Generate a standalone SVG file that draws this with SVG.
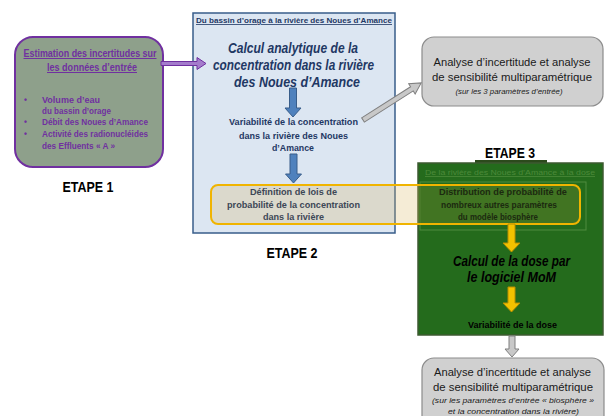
<svg xmlns="http://www.w3.org/2000/svg" width="605" height="416" viewBox="0 0 605 416">
<defs>
<style>
text{font-family:"Liberation Sans",Arial,sans-serif;text-anchor:middle}
.s{text-anchor:start}
.b{font-weight:bold}
.pur{fill:#7030a0;font-weight:bold}
.navy{fill:#1f3864}
.big{font-size:14px;font-weight:bold;font-style:italic}
.etape{font-size:14px;font-weight:bold;fill:#000}
.grey{font-size:11px;fill:#1a1a1a}
.it{font-size:8px;font-style:italic;fill:#1a1a1a}
.blueArr{fill:#4f81bd;stroke:#385d8a;stroke-width:1}
.yelArr{fill:#f2c200;stroke:#b88e00;stroke-width:1}
.greyArr{fill:#c8c8c8;stroke:#7f7f7f;stroke-width:1}
</style>
<clipPath id="ovClip"><rect x="211" y="185" width="369" height="39" rx="7"/></clipPath>
</defs>
<rect width="605" height="416" fill="#ffffff"/>

<g id="box-etape1">
<rect x="15" y="37" width="148" height="130" rx="18" fill="#8ea08b" stroke="#7030a0" stroke-width="2"/>
<text class="pur" x="90" y="57" font-size="10" text-decoration="underline" textLength="133" lengthAdjust="spacingAndGlyphs">Estimation des incertitudes sur</text>
<text class="pur" x="92" y="71" font-size="10" text-decoration="underline" textLength="90" lengthAdjust="spacingAndGlyphs">les données d’entrée</text>
<text class="pur s" x="24" y="103" font-size="8.5">•</text>
<text class="pur s" x="42" y="103" font-size="9" textLength="58" lengthAdjust="spacingAndGlyphs">Volume d’eau</text>
<text class="pur s" x="42" y="114" font-size="9" textLength="69" lengthAdjust="spacingAndGlyphs">du bassin d’orage</text>
<text class="pur s" x="24" y="125" font-size="8.5">•</text>
<text class="pur s" x="42" y="125" font-size="9" textLength="106" lengthAdjust="spacingAndGlyphs">Débit des Noues d’Amance</text>
<text class="pur s" x="24" y="137" font-size="8.5">•</text>
<text class="pur s" x="42" y="137" font-size="9" textLength="106" lengthAdjust="spacingAndGlyphs">Activité des radionucléides</text>
<text class="pur s" x="42" y="149" font-size="9" textLength="73" lengthAdjust="spacingAndGlyphs">des Effluents « A »</text>
<text class="etape" x="88" y="192" textLength="51" lengthAdjust="spacingAndGlyphs">ETAPE 1</text>
</g>

<g id="box-etape2">
<rect x="193" y="13" width="202" height="220" fill="#dce6f2" stroke="#385d8a" stroke-width="1.5"/>
<text class="navy b" x="294" y="23" font-size="8" text-decoration="underline" textLength="196" lengthAdjust="spacingAndGlyphs">Du bassin d’orage à la rivière des Noues d’Amance</text>
<text class="navy big" x="293" y="53" textLength="130" lengthAdjust="spacingAndGlyphs">Calcul analytique de la</text>
<text class="navy big" x="293.5" y="70" textLength="161" lengthAdjust="spacingAndGlyphs">concentration dans la rivière</text>
<text class="navy big" x="297" y="87" textLength="126" lengthAdjust="spacingAndGlyphs">des Noues d’Amance</text>
<text class="navy b" x="293.5" y="125" font-size="9.2" textLength="129" lengthAdjust="spacingAndGlyphs">Variabilité de la concentration</text>
<text class="navy b" x="293.5" y="139" font-size="9.2" textLength="109" lengthAdjust="spacingAndGlyphs">dans la rivière des Noues</text>
<text class="navy b" x="293" y="151" font-size="9.2" textLength="42" lengthAdjust="spacingAndGlyphs">d’Amance</text>
<text class="etape" x="292" y="258" textLength="51" lengthAdjust="spacingAndGlyphs">ETAPE 2</text>
</g>

<g id="box-etape3">
<rect x="475" y="160" width="72" height="4" fill="#2c4a1c"/>
<rect x="418" y="163" width="185" height="172" fill="#246b1c" stroke="#3d5a30" stroke-width="1.5"/>
<text x="510" y="175" font-size="8" fill="#4c8a3a" text-decoration="underline" textLength="170" lengthAdjust="spacingAndGlyphs">De la rivière des Noues d’Amance à la dose</text>
<rect x="420" y="182" width="166" height="48" fill="none" stroke="#4f8c3e" stroke-width="1"/>
<text class="etape" x="510" y="158" textLength="50" lengthAdjust="spacingAndGlyphs">ETAPE 3</text>
</g>

<g id="overlay-distribution">
<g clip-path="url(#ovClip)">
<rect x="211" y="185" width="369" height="39" fill="#d8b55f" fill-opacity="0.26"/>
<rect x="419" y="185" width="161" height="39" fill="#2f6a18" fill-opacity="0.5"/>
</g>
<rect x="211" y="185" width="369" height="39" rx="7" fill="none" stroke="#f0b400" stroke-width="2"/>
<text class="b" x="293.5" y="194.5" font-size="9.2" fill="#3d4756" textLength="87" lengthAdjust="spacingAndGlyphs">Définition de lois de</text>
<text class="b" x="293.5" y="207.5" font-size="9.2" fill="#3d4756" textLength="133" lengthAdjust="spacingAndGlyphs">probabilité de la concentration</text>
<text class="b" x="293.5" y="219.5" font-size="9.2" fill="#3d4756" textLength="61" lengthAdjust="spacingAndGlyphs">dans la rivière</text>
<text class="b" x="503" y="194.5" font-size="9.2" fill="#1c2a10" textLength="128" lengthAdjust="spacingAndGlyphs">Distribution de probabilité de</text>
<text class="b" x="499" y="207.5" font-size="9.2" fill="#1c2a10" textLength="116" lengthAdjust="spacingAndGlyphs">nombreux autres paramètres</text>
<text class="b" x="498" y="219.5" font-size="9.2" fill="#1c2a10" textLength="80" lengthAdjust="spacingAndGlyphs">du modèle biosphère</text>
</g>

<g id="calcul-dose">
<text class="big" x="511.5" y="266" fill="#000" textLength="117" lengthAdjust="spacingAndGlyphs">Calcul de la dose par</text>
<text class="big" x="511.5" y="282" fill="#000" textLength="89" lengthAdjust="spacingAndGlyphs">le logiciel MoM</text>
</g>
<g id="variabilite-dose">
<text class="b" x="512.5" y="328" font-size="9" fill="#000" textLength="89" lengthAdjust="spacingAndGlyphs">Variabilité de la dose</text>
</g>

<g id="analyse-1">
<rect x="422" y="37" width="181" height="69" rx="12" fill="#d0d0d0" stroke="#8c8c8c" stroke-width="1.2"/>
<text class="grey" x="512" y="66" textLength="157" lengthAdjust="spacingAndGlyphs">Analyse d’incertitude et analyse</text>
<text class="grey" x="512" y="81" textLength="160" lengthAdjust="spacingAndGlyphs">de sensibilité multiparamétrique</text>
<text class="it" x="509" y="94" textLength="107" lengthAdjust="spacingAndGlyphs">(sur les 3 paramètres d’entrée)</text>
</g>

<g id="analyse-2">
<rect x="422" y="358" width="182" height="70" rx="12" fill="#d0d0d0" stroke="#8c8c8c" stroke-width="1.2"/>
<text class="grey" x="512.5" y="376" textLength="157" lengthAdjust="spacingAndGlyphs">Analyse d’incertitude et analyse</text>
<text class="grey" x="513" y="391" textLength="160" lengthAdjust="spacingAndGlyphs">de sensibilité multiparamétrique</text>
<text class="it" x="513" y="403" textLength="162" lengthAdjust="spacingAndGlyphs">(sur les paramètres d’entrée « biosphère »</text>
<text class="it" x="513.5" y="414" textLength="131" lengthAdjust="spacingAndGlyphs">et la concentration dans la rivière)</text>
</g>

<g id="connectors">
<polygon points="161,61.5 197,61.5 197,57.5 206,63.5 197,69.5 197,65.5 161,65.5" fill="#a47ccc" stroke="#7030a0" stroke-width="1"/>
<polygon class="blueArr" points="289.5,88 296.5,88 296.5,108 301,108 293,117 285,108 289.5,108"/>
<polygon class="blueArr" points="290,154 297,154 297,174 301.5,174 293.5,183 285.5,174 290,174"/>
<polygon class="yelArr" points="508,224 515,224 515,243 520,243 511.5,252 503,243 508,243"/>
<polygon class="yelArr" points="508,287 515,287 515,303 520,303 511.5,312 503,303 508,303"/>
<polygon class="greyArr" points="509,336 515,336 515,349 519,349 512,357 505,349 509,349"/>
<g transform="translate(363,120) rotate(-32.5)">
<polygon class="greyArr" points="0,-2.5 58,-2.5 58,-6 69,0 58,6 58,2.5 0,2.5"/>
</g>
</g>
</svg>
